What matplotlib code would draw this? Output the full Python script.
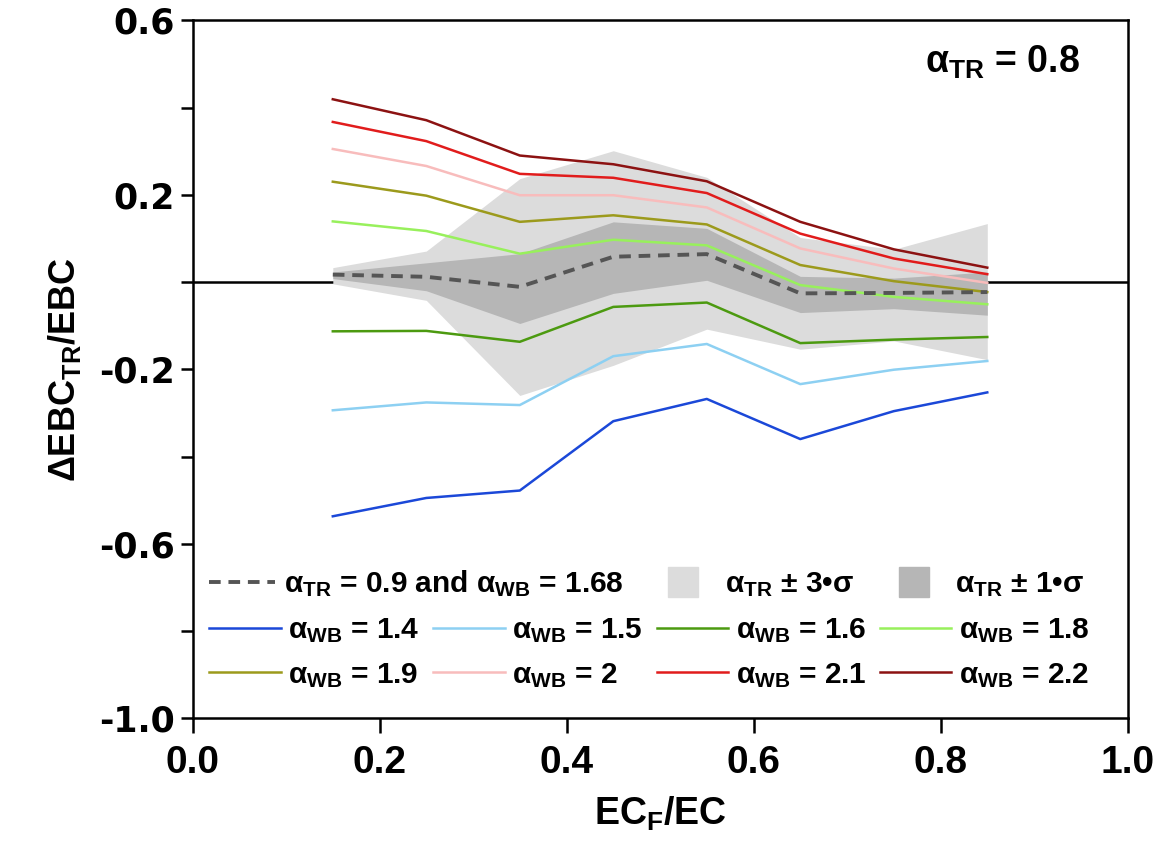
import matplotlib
matplotlib.use('Agg')
import matplotlib.pyplot as plt
from matplotlib import font_manager
from matplotlib.ticker import MultipleLocator
from matplotlib.lines import Line2D

# pick a condensed bold face if one is installed
names = {f.name for f in font_manager.fontManager.ttflist}
narrow = 'Liberation Sans Narrow' if 'Liberation Sans Narrow' in names else 'Liberation Sans'

plt.rcParams['font.family'] = [narrow, 'DejaVu Sans']
plt.rcParams['font.weight'] = 'bold'
plt.rcParams['axes.labelweight'] = 'bold'
plt.rcParams['mathtext.fontset'] = 'custom'
plt.rcParams['mathtext.rm'] = narrow + ':bold'
plt.rcParams['mathtext.it'] = narrow + ':bold'
plt.rcParams['mathtext.bf'] = narrow + ':bold'

# data
ec_frac = [0.15, 0.25, 0.35, 0.45, 0.55, 0.65, 0.75, 0.85]

ref_09 = [0.017, 0.012, -0.011, 0.058, 0.064, -0.026, -0.025, -0.023]

sig3_hi = [0.033, 0.071, 0.237, 0.301, 0.240, 0.102, 0.075, 0.134]
sig3_lo = [-0.004, -0.042, -0.260, -0.191, -0.108, -0.154, -0.135, -0.178]
sig1_hi = [0.023, 0.044, 0.065, 0.138, 0.123, 0.013, 0.009, 0.023]
sig1_lo = [0.008, -0.020, -0.095, -0.026, 0.004, -0.070, -0.061, -0.076]

wb_values = ['1.4', '1.5', '1.6', '1.8', '1.9', '2', '2.1', '2.2']
wb_curves = [
    [-0.537, -0.495, -0.478, -0.319, -0.268, -0.360, -0.296, -0.253],
    [-0.294, -0.276, -0.282, -0.170, -0.142, -0.234, -0.201, -0.181],
    [-0.113, -0.112, -0.137, -0.057, -0.047, -0.140, -0.132, -0.126],
    [0.139, 0.117, 0.065, 0.097, 0.084, -0.007, -0.034, -0.051],
    [0.230, 0.198, 0.138, 0.153, 0.132, 0.039, 0.002, -0.023],
    [0.305, 0.266, 0.199, 0.199, 0.171, 0.077, 0.031, -0.002],
    [0.367, 0.323, 0.248, 0.239, 0.204, 0.111, 0.054, 0.018],
    [0.419, 0.371, 0.290, 0.270, 0.231, 0.138, 0.075, 0.033],
]
wb_colors = ['#1b48d8', '#8dd0f2', '#4c9a10', '#98f05c',
             '#9c9a1c', '#f8bcbc', '#e11c1c', '#8c1212']
band3_color = '#dcdcdc'
band1_color = '#b6b6b6'

fig = plt.figure(figsize=(11.6, 8.46), dpi=100)
ax = fig.add_axes([0.166, 0.151, 0.806, 0.825])

ax.axhline(0, color='black', lw=1.8, zorder=0)
ax.fill_between(ec_frac, sig3_lo, sig3_hi, color=band3_color, lw=0, zorder=1)
ax.fill_between(ec_frac, sig1_lo, sig1_hi, color=band1_color, lw=0, zorder=2)

lines = []
for vals, col in zip(wb_curves, wb_colors):
    l, = ax.plot(ec_frac, vals, color=col, lw=1.8, zorder=3)
    lines.append(l)
dash, = ax.plot(ec_frac, ref_09, color='#555555', lw=2.8, ls=(0, (3, 2)), zorder=4)

ax.set_xlim(0, 1)
ax.set_ylim(-1.0, 0.6)
ax.yaxis.set_minor_locator(MultipleLocator(0.2))
ax.set_yticks([0.6, 0.2, -0.2, -0.6, -1.0])
ax.set_xticks([0.0, 0.2, 0.4, 0.6, 0.8, 1.0])
ax.set_xticklabels(['0.0', '0.2', '0.4', '0.6', '0.8', '1.0'], fontsize=28)
ax.set_yticklabels(['0.6', '0.2', '-0.2', '-0.6', '-1.0'], fontsize=25,
                   family='DejaVu Sans', weight='heavy')
ax.tick_params(which='both', direction='out', width=1.8, length=9, top=False, right=False)
ax.tick_params(axis='x', length=11, pad=8)
for s in ax.spines.values():
    s.set_linewidth(1.8)

ax.set_xlabel(r'EC$_{\rm F}$/EC', fontsize=27, labelpad=10)
ax.set_ylabel(r'ΔEBC$_{\rm TR}$/EBC', fontsize=26, labelpad=12)

ax.text(0.866, 0.94, r'$\alpha_{\rm TR}$ = 0.8', transform=ax.transAxes,
        fontsize=27, ha='center', va='center')

sq3 = Line2D([], [], ls='none', marker='s', markersize=22, color=band3_color)
sq1 = Line2D([], [], ls='none', marker='s', markersize=22, color=band1_color)
h1 = [dash, sq3, sq1]
l1 = [r'$\alpha_{\rm TR}$ = 0.9 and $\alpha_{\rm WB}$ = 1.68',
      r'$\alpha_{\rm TR}$ ± 3•σ', r'$\alpha_{\rm TR}$ ± 1•σ']
leg1 = ax.legend(h1, l1, loc='upper left', bbox_to_anchor=(0.005, 0.232), ncol=3,
                 frameon=False, fontsize=21.5, handlelength=2.2, handletextpad=0.3,
                 columnspacing=0.9, borderaxespad=0)
ax.add_artist(leg1)

order = [0, 4, 1, 5, 2, 6, 3, 7]
h2 = [lines[i] for i in order]
l2 = [r'$\alpha_{\rm WB}$ = ' + wb_values[i] for i in order]
ax.legend(h2, l2, loc='upper left', bbox_to_anchor=(0.005, 0.163), ncol=4,
          frameon=False, fontsize=21.5, handlelength=2.4, handletextpad=0.25,
          columnspacing=0.45, labelspacing=0.52, borderaxespad=0)

fig.savefig('out.png', dpi=100)
